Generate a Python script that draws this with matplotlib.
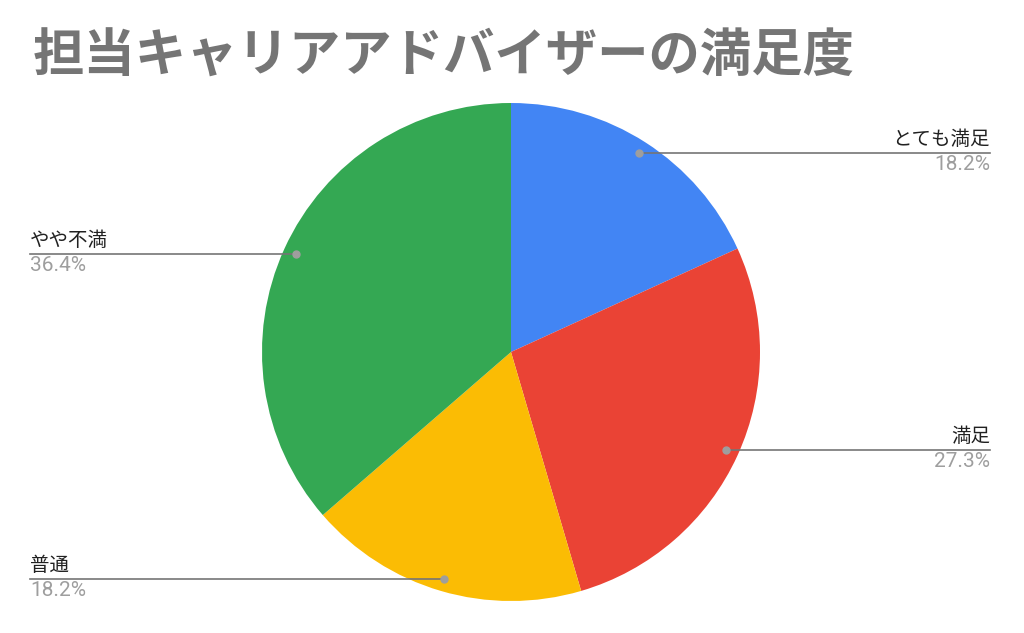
import numpy as np
import matplotlib.pyplot as plt

plt.rcParams['font.family'] = ['Noto Sans CJK JP', 'DejaVu Sans']

title = '担当キャリアアドバイザーの満足度'
labels = ['とても満足', '満足', '普通', 'やや不満']
counts = [2, 3, 2, 4]
colors = ['#4285F4', '#EA4335', '#FBBC04', '#34A853']

W, H = 1024, 633
fig = plt.figure(figsize=(W / 100, H / 100), dpi=100)
ax = fig.add_axes([0, 0, 1, 1])

cx, cy, R = 511, H - 352, 249
wedges, _ = ax.pie(counts, colors=colors, startangle=90, counterclock=False,
                   center=(cx, cy), radius=R, frame=True,
                   wedgeprops=dict(linewidth=0))
ax.set_xlim(0, W)
ax.set_ylim(0, H)
ax.set_aspect('equal')
ax.axis('off')

total = sum(counts)
for w, lab, c in zip(wedges, labels, counts):
    mid = np.deg2rad((w.theta1 + w.theta2) / 2)
    px = cx + 0.95 * R * np.cos(mid)
    py = cy + 0.95 * R * np.sin(mid)
    pct = '{:.1f}%'.format(100 * c / total)
    if np.cos(mid) >= 0:
        x_end, ha = 990, 'right'
    else:
        x_end, ha = 30, 'left'
    ax.plot([px, x_end], [py, py], color='#757575', lw=1.2, zorder=3)
    ax.plot(px, py, 'o', color='#9e9e9e', ms=5, zorder=4)
    ax.text(x_end, py + 3, lab, ha=ha, va='bottom', fontsize=14, color='#212121')
    ax.text(x_end, py - 2, pct, ha=ha, va='top', fontsize=15, color='#9e9e9e',
            family=['Roboto', 'DejaVu Sans'])

fig.text(33 / W, 1 - 56 / H, title, ha='left', va='center', fontsize=37,
         fontweight='bold', color='#757575')

fig.savefig('out.png', dpi=100, facecolor='white')
